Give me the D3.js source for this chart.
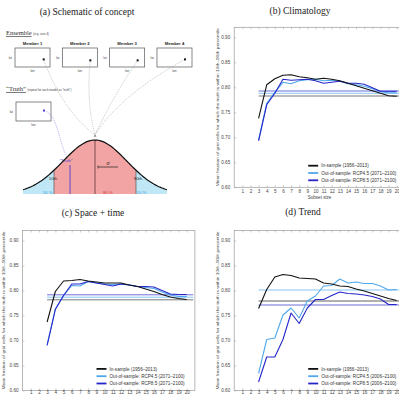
<!DOCTYPE html>
<html>
<head>
<meta charset="utf-8">
<script src="https://cdn.jsdelivr.net/npm/d3@7"></script>
<style>
  html, body { margin: 0; padding: 0; background: #fff; }
  svg { display: block; }
</style>
</head>
<body>
<svg id="fig"></svg>
<script>
// figure size
const width = 399;
const height = 396;

// data
const subsetSize = [3, 4, 5, 6, 7, 8, 9, 10, 11, 12, 13, 14, 15, 16, 17, 18, 19, 20];
const xTicks = [1, 2, 3, 4, 5, 6, 7, 8, 9, 10, 11, 12, 13, 14, 15, 16, 17, 18, 19, 20];
const yTicks = [0.60, 0.65, 0.70, 0.75, 0.80, 0.85, 0.90];

// (b) Climatology
const climInSample = [0.738, 0.805, 0.817, 0.824, 0.825, 0.821, 0.819, 0.816, 0.818, 0.816, 0.813, 0.808, 0.803, 0.798, 0.793, 0.788, 0.783, 0.782];
const climRcp45 = [0.695, 0.768, 0.790, 0.810, 0.807, 0.813, 0.815, 0.816, 0.813, 0.814, 0.812, 0.807, 0.805, 0.802, 0.797, 0.791, 0.789, 0.789];
const climRcp85 = [0.693, 0.765, 0.788, 0.816, 0.814, 0.815, 0.816, 0.813, 0.808, 0.810, 0.812, 0.808, 0.808, 0.806, 0.799, 0.792, 0.792, 0.792];
const climRef = [0.7826, 0.788, 0.7926];

// (c) Space + time
const spaceInSample = [0.737, 0.798, 0.819, 0.820, 0.822, 0.819, 0.817, 0.815, 0.815, 0.815, 0.811, 0.808, 0.803, 0.798, 0.792, 0.787, 0.784, 0.782];
const spaceRcp45 = [0.692, 0.763, 0.790, 0.810, 0.809, 0.818, 0.815, 0.813, 0.812, 0.813, 0.811, 0.808, 0.806, 0.804, 0.797, 0.791, 0.788, 0.788];
const spaceRcp85 = [0.690, 0.762, 0.790, 0.813, 0.813, 0.818, 0.815, 0.812, 0.809, 0.813, 0.811, 0.808, 0.808, 0.807, 0.800, 0.793, 0.792, 0.792];
const spaceRef = [0.7814, 0.7866, 0.7914];

// (d) Trend
const trendInSample = [0.764, 0.802, 0.827, 0.832, 0.830, 0.825, 0.824, 0.823, 0.815, 0.813, 0.809, 0.808, 0.803, 0.799, 0.794, 0.789, 0.784, 0.780];
const trendRcp45 = [0.634, 0.702, 0.705, 0.751, 0.765, 0.745, 0.779, 0.789, 0.809, 0.810, 0.823, 0.815, 0.817, 0.814, 0.814, 0.809, 0.801, 0.802];
const trendRcp85 = [0.617, 0.667, 0.667, 0.702, 0.755, 0.734, 0.765, 0.782, 0.782, 0.790, 0.797, 0.794, 0.793, 0.791, 0.788, 0.783, 0.772, 0.772];
const trendRef = [0.779, 0.801, 0.771];

const legendClim = ["In-sample (1956\u20132013)", "Out-of-sample: RCP4.5 (2071\u20132100)", "Out-of-sample: RCP8.5 (2071\u20132100)"];
const legendTrend = ["In-sample (1956\u20132013)", "Out-of-sample: RCP4.5 (2006\u20132100)", "Out-of-sample: RCP8.5 (2006\u20132100)"];

// schematic content
const members = ["Member 1", "Member 2", "Member 3", "Member 4"];
const memberLon = [0.82, 0.80, 0.80, 0.80];
const memberLat = [0.40, 0.35, 0.35, 0.40];
const truthLon = 0.80;
const truthLat = 0.55;
const truthSigma = -0.78;
const pctZ = 1.2816;

// colours
const colBlack = "#111";
const colLight = "#4fa8ec";
const colDark = "#2626c8";
const serif = "'Liberation Serif', 'DejaVu Serif', serif";
const sans = "'Liberation Sans', Arial, sans-serif";

const svg = d3.select("#fig")
  .attr("width", width)
  .attr("height", height)
  .attr("viewBox", `0 0 ${width} ${height}`);

svg.append("rect").attr("width", width).attr("height", height).attr("fill", "#fff");

// titles
const titles = [
  { t: "(a) Schematic of concept", x: 87, y: 15 },
  { t: "(b) Climatology", x: 300, y: 14 },
  { t: "(c) Space + time", x: 93, y: 216 },
  { t: "(d) Trend", x: 303, y: 215 }
];
svg.selectAll("text.title")
  .data(titles)
  .enter()
  .append("text")
  .attr("class", "title")
  .attr("x", d => d.x)
  .attr("y", d => d.y)
  .attr("text-anchor", "middle")
  .attr("font-family", serif)
  .attr("font-size", 9.5)
  .attr("fill", "#222")
  .text(d => d.t);

// ---------- line panels ----------
function drawPanel(cfg) {
  const x = d3.scaleLinear().domain([0, 21]).range([cfg.left, cfg.left + 21 * cfg.step]);
  const y = d3.scaleLinear().domain([0.6, 0.92]).range([cfg.bottom, cfg.bottom - 0.32 * 500]);
  const g = svg.append("g");

  // frame
  g.append("rect")
    .attr("x", x(0))
    .attr("y", y(0.92))
    .attr("width", x(21) - x(0))
    .attr("height", y(0.6) - y(0.92))
    .attr("fill", "none")
    .attr("stroke", "#9a9a9a")
    .attr("stroke-width", 0.7);

  // axes
  const xAxis = d3.axisBottom(x).tickValues(xTicks).tickSize(-2).tickPadding(cfg.xPad).tickFormat(d3.format("d"));
  const gx = g.append("g").attr("transform", `translate(0,${y(0.6)})`).call(xAxis);
  const xTop = d3.axisTop(x).tickValues(xTicks).tickSize(-2).tickFormat("");
  const gxt = g.append("g").attr("transform", `translate(0,${y(0.92)})`).call(xTop);
  const yAxis = d3.axisLeft(y).tickValues(yTicks).tickSize(-2).tickPadding(4).tickFormat(d3.format(".2f"));
  const gy = g.append("g").attr("transform", `translate(${x(0)},0)`).call(yAxis);
  [gx, gxt, gy].forEach(a => {
    a.select(".domain").remove();
    a.selectAll(".tick line").attr("stroke", "#9a9a9a").attr("stroke-width", 0.5);
    a.selectAll("text").attr("font-family", sans).attr("font-size", 4.6).attr("fill", "#444");
  });

  // y label
  g.append("text")
    .attr("transform", `translate(${cfg.ylabX},${(y(0.6) + y(0.92)) / 2}) rotate(-90)`)
    .attr("text-anchor", "middle")
    .attr("font-family", sans)
    .attr("font-size", 4.3)
    .attr("fill", "#444")
    .attr("textLength", 158)
    .attr("lengthAdjust", "spacingAndGlyphs")
    .text("Mean fraction of grid cells for which the truth is within 10th\u201390th percentile");

  // x label (only where it falls inside the picture)
  if (cfg.showXLabel) {
    g.append("text")
      .attr("x", x(10.5))
      .attr("y", y(0.6) + 11.5)
      .attr("text-anchor", "middle")
      .attr("font-family", sans)
      .attr("font-size", 4.6)
      .attr("fill", "#444")
      .text("Subset size");
  }

  // reference lines
  const refCols = [colBlack, colLight, colDark];
  g.selectAll("line.ref")
    .data(cfg.ref)
    .enter()
    .append("line")
    .attr("class", "ref")
    .attr("x1", x(3))
    .attr("x2", x(20.8))
    .attr("y1", d => y(d))
    .attr("y2", d => y(d))
    .attr("stroke", (d, i) => i === 0 ? cfg.refBlack : refCols[i])
    .attr("stroke-width", (d, i) => i === 0 ? cfg.refBlackWidth : 0.8)
    .attr("stroke-opacity", (d, i) => i === 0 ? 1 : 0.85);

  // series
  const line = d3.line().x((d, i) => x(subsetSize[i])).y(d => y(d));
  const series = [
    { v: cfg.rcp45, c: colLight, w: 1.1 },
    { v: cfg.rcp85, c: colDark, w: 1.1 },
    { v: cfg.inSample, c: colBlack, w: 1.1 }
  ];
  g.selectAll("path.series")
    .data(series)
    .enter()
    .append("path")
    .attr("class", "series")
    .attr("d", d => line(d.v))
    .attr("fill", "none")
    .attr("stroke", d => d.c)
    .attr("stroke-width", d => d.w)
    .attr("stroke-linejoin", "round");

  // legend
  const legCols = [colBlack, colLight, colDark];
  const lg = g.append("g").attr("transform", `translate(${x(0) + 74},${y(0.6)})`);
  const rows = lg.selectAll("g")
    .data(cfg.legend)
    .enter()
    .append("g")
    .attr("transform", (d, i) => `translate(0,${-21.6 + i * 7.3})`);
  rows.append("line")
    .attr("x1", 0).attr("x2", 10)
    .attr("stroke", (d, i) => legCols[i])
    .attr("stroke-width", 1.8);
  rows.append("text")
    .attr("x", 13)
    .attr("y", 1.6)
    .attr("font-family", sans)
    .attr("font-size", 4.6)
    .attr("fill", "#333")
    .text(d => d);
}

drawPanel({ left: 234.2, step: 8.125, bottom: 187.3, xPad: 2, showXLabel: true, ylabX: 219, inSample: climInSample, rcp45: climRcp45, rcp85: climRcp85, ref: climRef, refBlack: "#555", refBlackWidth: 0.8, legend: legendClim });
drawPanel({ left: 22.5, step: 8.21, bottom: 390.5, xPad: 0.6, showXLabel: false, ylabX: 5, inSample: spaceInSample, rcp45: spaceRcp45, rcp85: spaceRcp85, ref: spaceRef, refBlack: "#555", refBlackWidth: 0.8, legend: legendClim });
drawPanel({ left: 234.2, step: 8.125, bottom: 390.5, xPad: 0.6, showXLabel: false, ylabX: 219, inSample: trendInSample, rcp45: trendRcp45, rcp85: trendRcp85, ref: trendRef, refBlack: "#b0b0b0", refBlackWidth: 1.8, legend: legendTrend });

// ---------- schematic (a) ----------
const ga = svg.append("g");

// section labels
function sectionLabel(txt, small, x0, y0) {
  const t = ga.append("text")
    .attr("x", x0)
    .attr("y", y0)
    .attr("font-family", serif)
    .attr("font-size", 6.5)
    .attr("fill", "#333")
    .attr("text-decoration", "underline")
    .text(txt);
  const w = t.node().getComputedTextLength();
  ga.append("text")
    .attr("x", x0 + w + 1.5)
    .attr("y", y0)
    .attr("font-family", sans)
    .attr("font-size", 3)
    .attr("fill", "#444")
    .text(small);
}
sectionLabel("Ensemble", "(e.g. size 4)", 6, 35);
sectionLabel("\u201cTruth\u201d", "(repeat for each model as \u201ctruth\u201d)", 6, 91);

const band = d3.scaleBand().domain(members).range([15, 192]).paddingInner(0.26);
const boxTop = 48, boxH = 19;

// bell curve scales
const bx = d3.scaleLinear().domain([-2.25, 2.25]).range([23, 167]);
const pdf = z => Math.exp(-z * z / 2);
const by = d3.scaleLinear().domain([0, 1]).range([194, 140]);
const apex = [bx(0), by(1) - 5];

// member boxes
const mg = ga.selectAll("g.member")
  .data(members)
  .enter()
  .append("g")
  .attr("class", "member")
  .attr("transform", d => `translate(${band(d)},${boxTop})`);
mg.append("rect")
  .attr("width", band.bandwidth())
  .attr("height", boxH)
  .attr("fill", "#fff")
  .attr("stroke", "#555")
  .attr("stroke-width", 0.7);
mg.append("text")
  .attr("x", band.bandwidth() / 2)
  .attr("y", -3.5)
  .attr("text-anchor", "middle")
  .attr("font-family", sans)
  .attr("font-weight", "bold")
  .attr("font-size", 4.2)
  .attr("fill", "#222")
  .text(d => d);
mg.append("text")
  .attr("x", -3)
  .attr("y", boxH / 2 + 1)
  .attr("text-anchor", "end")
  .attr("font-family", sans)
  .attr("font-size", 3.2)
  .attr("fill", "#444")
  .text("lat");
mg.append("text")
  .attr("x", band.bandwidth() / 2)
  .attr("y", boxH + 4.5)
  .attr("text-anchor", "middle")
  .attr("font-family", sans)
  .attr("font-size", 3.2)
  .attr("fill", "#444")
  .text("lon");

const memberPts = members.map((m, i) => [band(m) + memberLon[i] * band.bandwidth(), boxTop + (1 - memberLat[i]) * boxH]);

// dotted connectors to the apex
const ctrl = [[62, 110], [86, 100], [112, 98], [120, 95]];
ga.selectAll("path.link")
  .data(memberPts)
  .enter()
  .append("path")
  .attr("class", "link")
  .attr("d", (p, i) => `M${p[0]},${p[1]} Q${ctrl[i][0]},${ctrl[i][1]} ${apex[0]},${apex[1]}`)
  .attr("fill", "none")
  .attr("stroke", "#888")
  .attr("stroke-width", 0.5)
  .attr("stroke-dasharray", "1,1");

ga.selectAll("rect.mdot")
  .data(memberPts)
  .enter()
  .append("rect")
  .attr("class", "mdot")
  .attr("x", p => p[0] - 1)
  .attr("y", p => p[1] - 1)
  .attr("width", 2)
  .attr("height", 2)
  .attr("fill", "#111");

// truth box
const tb = { x: 16, y: 102, w: 35, h: 19 };
ga.append("rect")
  .attr("x", tb.x).attr("y", tb.y).attr("width", tb.w).attr("height", tb.h)
  .attr("fill", "#fff").attr("stroke", "#555").attr("stroke-width", 0.7);
ga.append("text").attr("x", tb.x - 3).attr("y", tb.y + tb.h / 2 + 1).attr("text-anchor", "end")
  .attr("font-family", sans).attr("font-size", 3.2).attr("fill", "#444").text("lat");
ga.append("text").attr("x", tb.x + tb.w / 2).attr("y", tb.y + tb.h + 4.5).attr("text-anchor", "middle")
  .attr("font-family", sans).attr("font-size", 3.2).attr("fill", "#444").text("lon");
const tp = [tb.x + truthLon * tb.w, tb.y + (1 - truthLat) * tb.h];
const truthX = bx(truthSigma);

// bell fills
const zs = d3.range(-2.25, 2.2501, 0.05);
const area = d3.area().x(z => bx(z)).y0(by(0)).y1(z => by(pdf(z)));
const clampZ = (a, b) => zs.filter(z => z >= a - 1e-9 && z <= b + 1e-9).concat([b]);
ga.append("path").attr("d", area(clampZ(-2.25, -pctZ))).attr("fill", "#bfe7f6");
ga.append("path").attr("d", area([pctZ].concat(clampZ(pctZ, 2.25)))).attr("fill", "#bfe7f6");
ga.append("path").attr("d", area([-pctZ].concat(clampZ(-pctZ, pctZ)))).attr("fill", "#f2a3a3");

// percentile and mean lines
[-pctZ, pctZ].forEach(z => {
  ga.append("line").attr("x1", bx(z)).attr("x2", bx(z)).attr("y1", by(0)).attr("y2", by(pdf(z)))
    .attr("stroke", "#555").attr("stroke-width", 0.7);
});
ga.append("line").attr("x1", bx(0)).attr("x2", bx(0)).attr("y1", by(0)).attr("y2", by(1))
  .attr("stroke", "#5a3535").attr("stroke-width", 0.8);

// truth line and connector
ga.append("path")
  .attr("d", `M${tp[0]},${tp[1]} C${tp[0] + 14},${tp[1] + 4} ${tp[0] + 14},${tp[1] + 30} ${truthX - 3},${157}`)
  .attr("fill", "none").attr("stroke", "#6b5be0").attr("stroke-width", 0.5).attr("stroke-dasharray", "1,1");
ga.append("line").attr("x1", truthX).attr("x2", truthX).attr("y1", 165).attr("y2", by(0))
  .attr("stroke", "#5140d0").attr("stroke-width", 0.9);
ga.append("text").attr("x", truthX - 4).attr("y", 162).attr("text-anchor", "middle")
  .attr("font-family", sans).attr("font-size", 4.3).attr("fill", "#5140d0").text("\u201cTruth\u201d");
ga.append("rect").attr("x", tp[0] - 1).attr("y", tp[1] - 1).attr("width", 2).attr("height", 2).attr("fill", "#5140d0");

// bell outline
ga.append("path")
  .attr("d", d3.line().x(z => bx(z)).y(z => by(pdf(z)))(zs))
  .attr("fill", "none").attr("stroke", "#111").attr("stroke-width", 1.2);

// apex mark
ga.append("path").attr("d", `M${apex[0] - 1},${apex[1] + 2} L${apex[0]},${apex[1]} L${apex[0] + 1},${apex[1] + 2}`)
  .attr("fill", "none").attr("stroke", "#333").attr("stroke-width", 0.5);

// sigma marker
const sy = 167;
ga.append("line").attr("x1", bx(0) + 3).attr("x2", bx(0) + 23).attr("y1", sy).attr("y2", sy)
  .attr("stroke", "#222").attr("stroke-width", 0.7);
ga.append("line").attr("x1", bx(0) + 3).attr("x2", bx(0) + 3).attr("y1", sy - 1.5).attr("y2", sy + 1.5)
  .attr("stroke", "#222").attr("stroke-width", 0.7);
ga.append("text").attr("x", bx(0) + 13).attr("y", sy - 2).attr("text-anchor", "middle")
  .attr("font-family", serif).attr("font-style", "italic").attr("font-size", 6).attr("fill", "#222").text("\u03c3");

// percentile labels
const pLabels = [
  { t: "10th", z: -pctZ, y: 180, c: "#222", dx: -1 },
  { t: "90th", z: pctZ, y: 180, c: "#222", dx: 2 },
  { t: "10 %", z: -1.45, y: 194, c: "#3a9ad8", dx: -1 },
  { t: "10 %", z: 1.45, y: 194, c: "#3a9ad8", dx: 0 },
  { t: "80 %", z: 0.4, y: 194, c: "#d43c3c", dx: 0 }
];
ga.selectAll("text.plab")
  .data(pLabels)
  .enter()
  .append("text")
  .attr("class", "plab")
  .attr("x", d => bx(d.z) + d.dx)
  .attr("y", d => d.y)
  .attr("text-anchor", "middle")
  .attr("font-family", sans)
  .attr("font-size", 4.3)
  .attr("fill", d => d.c)
  .text(d => d.t);
</script>
</body>
</html>
